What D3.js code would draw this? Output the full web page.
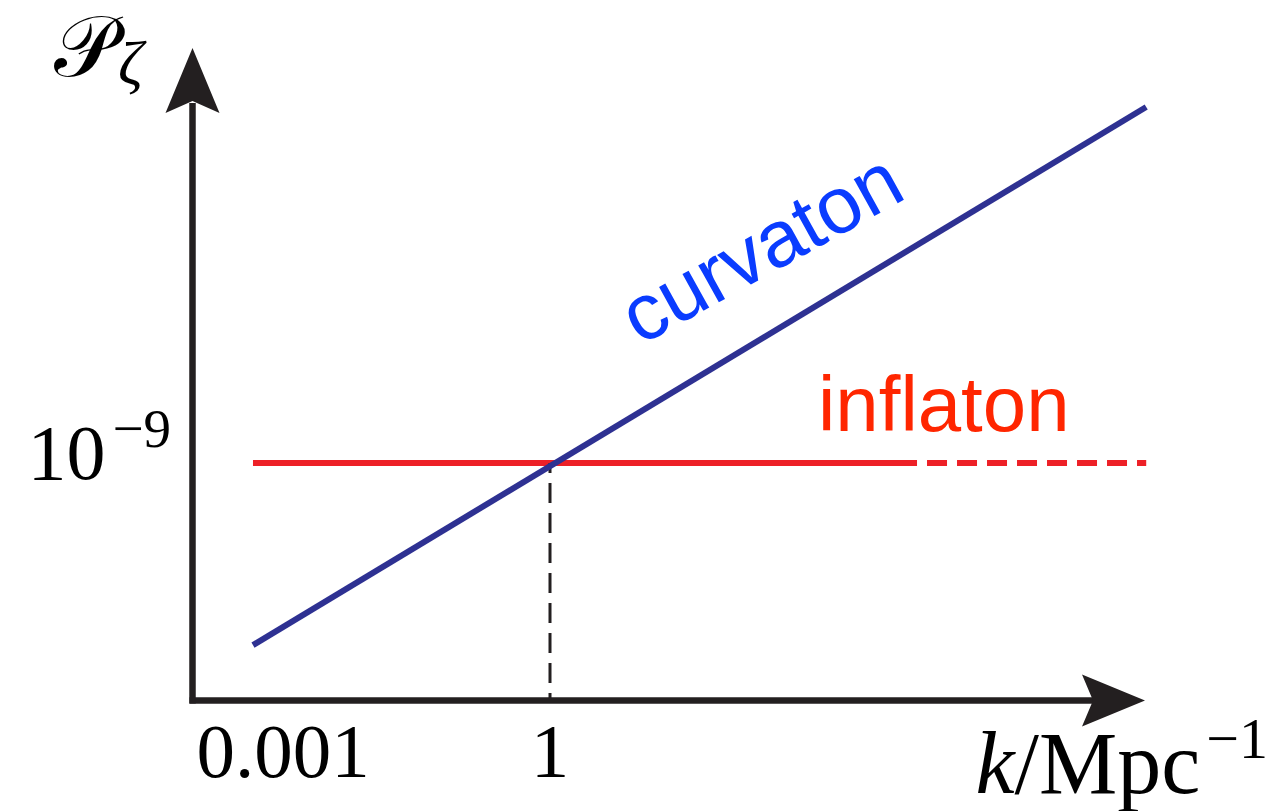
<!DOCTYPE html>
<html>
<head>
<meta charset="utf-8">
<script src="https://cdn.jsdelivr.net/npm/d3@7"></script>
<style>
  html, body { margin: 0; padding: 0; background: #fff; }
  svg { display: block; }
</style>
</head>
<body>
<svg id="chart" width="1277" height="811"></svg>
<script>
// Power spectrum sketch: P_zeta versus k (Mpc^-1), log-log.
const curvatonK = [4.6e-4, 5.0e6];
const curvatonP = [9.0e-12, 1.0e-5];
const inflatonSolidK = [4.6e-4, 1.33e4];
const inflatonDashedK = [1.33e4, 5.0e6];
const inflatonP = [1e-9, 1e-9];
const pivotK = 1;
const xTickValues = [0.001, 1];
const xTickLabels = ["0.001", "1"];
const yTickValues = [1e-9];

const svg = d3.select("#chart");

// layout
const axisLeft = 192.5, axisBottom = 700.5;
const xAxisTip = 1145, yAxisTip = 48;
const axisColor = "#231f20";

const x = d3.scaleLog().domain([1e-3, 1]).range([283, 550]);
const y = d3.scaleLog().domain([1e-9, 1e-5]).range([463, 107]);

const line = d3.line().x(d => x(d[0])).y(d => y(d[1]));

// inflaton: solid, then dashed extrapolation
svg.append("path")
  .attr("d", line(d3.zip(inflatonSolidK, inflatonP)))
  .attr("fill", "none").attr("stroke", "#ed2027").attr("stroke-width", 6);
svg.append("path")
  .attr("d", line(d3.zip(inflatonDashedK, inflatonP)))
  .attr("fill", "none").attr("stroke", "#ed2027").attr("stroke-width", 6)
  .attr("stroke-dasharray", "20,10").attr("stroke-dashoffset", 20);

// pivot guide
svg.append("line")
  .attr("x1", x(pivotK)).attr("x2", x(pivotK))
  .attr("y1", y(inflatonP[0])).attr("y2", axisBottom)
  .attr("stroke", axisColor).attr("stroke-width", 3)
  .attr("stroke-dasharray", "20,10").attr("stroke-dashoffset", 10);

// curvaton
svg.append("path")
  .attr("d", line(d3.zip(curvatonK, curvatonP)))
  .attr("fill", "none").attr("stroke", "#2e3192").attr("stroke-width", 6);

// axes with arrowheads
svg.append("line")
  .attr("x1", axisLeft - 3).attr("x2", xAxisTip - 50)
  .attr("y1", axisBottom).attr("y2", axisBottom)
  .attr("stroke", axisColor).attr("stroke-width", 6.5);
svg.append("line")
  .attr("x1", axisLeft).attr("x2", axisLeft)
  .attr("y1", axisBottom + 3).attr("y2", yAxisTip + 55)
  .attr("stroke", axisColor).attr("stroke-width", 6.5);
svg.append("path")
  .attr("d", `M${xAxisTip},${axisBottom} l-63,-26 l11,26 l-11,26 Z`)
  .attr("fill", axisColor);
svg.append("path")
  .attr("d", `M${axisLeft},${yAxisTip} l-27,65 l27,-12 l27,12 Z`)
  .attr("fill", axisColor);

const serif = "'Liberation Serif', 'Times New Roman', serif";
const sans = "'Liberation Sans', Arial, Helvetica, sans-serif";

// x tick labels
svg.selectAll("text.xtick")
  .data(xTickValues)
  .join("text")
  .attr("class", "xtick")
  .attr("x", d => x(d))
  .attr("y", 777)
  .attr("text-anchor", "middle")
  .attr("font-family", serif)
  .attr("font-size", 77)
  .attr("fill", "#000")
  .text((d, i) => xTickLabels[i]);

// y tick label 10^-9
svg.selectAll("text.ytick")
  .data(yTickValues)
  .join("text")
  .attr("class", "ytick")
  .attr("x", 171)
  .attr("y", d => y(d) + 16)
  .attr("text-anchor", "end")
  .attr("font-family", serif)
  .attr("font-size", 78)
  .attr("fill", "#000")
  .call(t => {
    t.append("tspan").text("10");
    t.append("tspan").attr("dy", -32).attr("dx", 7).attr("font-size", 55)
      .text(d => "\u2212" + Math.round(-Math.log10(d)));
  });

// axis titles
const yTitle = svg.append("text")
  .attr("x", 54).attr("y", 76)
  .attr("font-family", serif).attr("fill", "#000");
yTitle.append("tspan").attr("font-size", 86).text("\u{1D4AB}");
yTitle.append("tspan").attr("font-size", 62).attr("font-style", "italic")
  .attr("dx", 2).attr("dy", 8).text("\u03B6");

const xTitle = svg.append("text")
  .attr("x", 1268).attr("y", 793)
  .attr("text-anchor", "end")
  .attr("font-family", serif).attr("font-size", 88).attr("fill", "#000");
xTitle.append("tspan").attr("font-style", "italic").text("k");
xTitle.append("tspan").text("/Mpc");
xTitle.append("tspan").attr("dy", -35).attr("dx", 6).attr("font-size", 58).text("\u22121");

// series labels
svg.append("text")
  .attr("transform", "translate(640,346) rotate(-29)")
  .attr("font-family", sans).attr("font-size", 80)
  .attr("fill", "#0a3cff")
  .text("curvaton");
svg.append("text")
  .attr("x", 818).attr("y", 431)
  .attr("font-family", sans).attr("font-size", 78)
  .attr("fill", "#ff2600")
  .text("inflaton");
</script>
</body>
</html>
